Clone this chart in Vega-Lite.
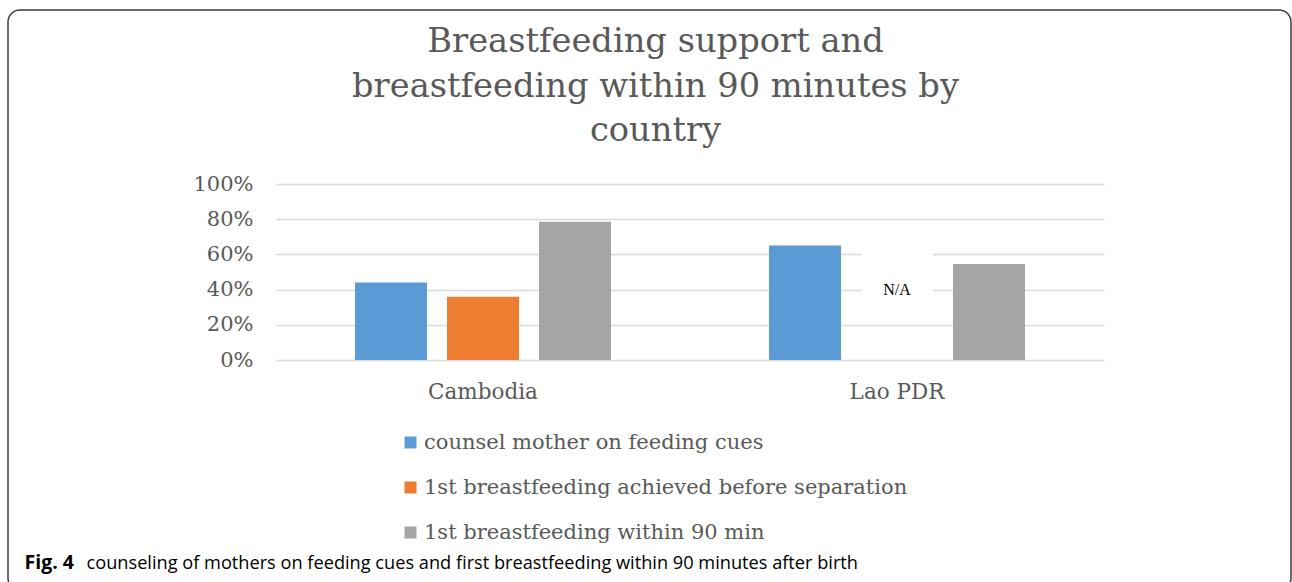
{
  "$schema": "https://vega.github.io/schema/vega-lite/v6.json",
  "width": 1283,
  "height": 580,
  "autosize": {"type": "none"},
  "padding": {"left": 8, "top": 10, "right": 1, "bottom": -8},
  "background": "white",
  "config": {
    "view": {"stroke": "#3c3c3c", "strokeWidth": 1.5, "cornerRadius": 12}
  },
  "title": {
    "text": ["Breastfeeding support and", "breastfeeding within 90 minutes by", "country"],
    "font": "DejaVu Serif",
    "fontSize": 33.7,
    "fontWeight": "normal",
    "color": "#595959",
    "anchor": "middle",
    "frame": "group",
    "baseline": "alphabetic",
    "offset": 0,
    "dx": 6,
    "dy": 165,
    "lineHeight": 44.5
  },
  "datasets": {
    "bars": [
      {"country": "Cambodia", "series": "counsel mother on feeding cues", "value": 0.44},
      {"country": "Cambodia", "series": "1st breastfeeding achieved before separation", "value": 0.36},
      {"country": "Cambodia", "series": "1st breastfeeding within 90 min", "value": 0.785},
      {"country": "Lao PDR", "series": "counsel mother on feeding cues", "value": 0.65},
      {"country": "Lao PDR", "series": "1st breastfeeding within 90 min", "value": 0.545}
    ],
    "na": [
      {"country": "Lao PDR", "series": "1st breastfeeding achieved before separation", "lo": 0.24, "hi": 0.61, "pos": 0.40, "label": "N/A"}
    ]
  },
  "layer": [
    {
      "data": {"name": "bars"},
      "mark": {"type": "bar"},
      "encoding": {
        "x": {
          "field": "country",
          "type": "nominal",
          "sort": ["Cambodia", "Lao PDR"],
          "scale": {"range": [268, 1096], "paddingInner": 0, "paddingOuter": 0},
          "axis": {
            "orient": "bottom",
            "offset": -230,
            "domain": false,
            "ticks": false,
            "tickSize": 0,
            "grid": false,
            "labelAngle": 0,
            "labelBaseline": "alphabetic",
            "labelPadding": 38,
            "labelFont": "DejaVu Serif",
            "labelFontSize": 21.5,
            "labelColor": "#595959",
            "title": "counseling of mothers on feeding cues and first breastfeeding within 90 minutes after birth",
            "titleFont": "Open Sans",
            "titleFontSize": 18.2,
            "titleFontWeight": "normal",
            "titleColor": "#000000",
            "titleAngle": 0,
            "titleAlign": "left",
            "titleBaseline": "alphabetic",
            "titleX": 78,
            "titleY": 208
          }
        },
        "xOffset": {
          "field": "series",
          "type": "nominal",
          "scale": {
            "domain": ["counsel mother on feeding cues", "1st breastfeeding achieved before separation", "1st breastfeeding within 90 min"],
            "paddingInner": 0.2174,
            "paddingOuter": 0.8587
          }
        },
        "y": {
          "field": "value",
          "type": "quantitative",
          "scale": {"domain": [0, 1], "range": [350, 174], "nice": false, "zero": true},
          "axis": {
            "orient": "left",
            "offset": -245,
            "values": [0, 0.2, 0.4, 0.6, 0.8, 1],
            "format": ".0%",
            "domain": false,
            "ticks": false,
            "tickSize": 0,
            "labelPadding": 0,
            "labelFont": "DejaVu Serif",
            "labelFontSize": 21,
            "labelColor": "#595959",
            "grid": true,
            "gridColor": "#D9D9D9",
            "gridWidth": 1.5,
            "title": "Fig. 4",
            "titleFont": "Open Sans",
            "titleFontSize": 19.5,
            "titleFontWeight": "bold",
            "titleColor": "#000000",
            "titleAngle": 0,
            "titleAlign": "left",
            "titleBaseline": "alphabetic",
            "titleX": -229,
            "titleY": 558
          }
        },
        "color": {
          "field": "series",
          "type": "nominal",
          "scale": {
            "domain": ["counsel mother on feeding cues", "1st breastfeeding achieved before separation", "1st breastfeeding within 90 min"],
            "range": ["#5B9BD5", "#ED7D31", "#A5A5A5"]
          },
          "legend": {
            "orient": "none",
            "legendX": 392,
            "legendY": 422,
            "direction": "vertical",
            "title": null,
            "padding": 0,
            "symbolType": "square",
            "symbolSize": 144,
            "symbolStrokeWidth": 0,
            "labelFont": "DejaVu Serif",
            "labelFontSize": 21,
            "labelColor": "#595959",
            "labelOffset": 3,
            "labelLimit": 800,
            "rowPadding": 23
          }
        }
      }
    },
    {
      "data": {"name": "na"},
      "mark": {"type": "bar", "color": "white", "fill": "white", "stroke": null},
      "encoding": {
        "x": {"field": "country", "type": "nominal"},
        "xOffset": {"field": "series", "type": "nominal"},
        "y": {"field": "hi", "type": "quantitative"},
        "y2": {"field": "lo"}
      }
    },
    {
      "data": {"name": "na"},
      "mark": {"type": "text", "font": "Liberation Serif", "fontSize": 16, "color": "#000000", "baseline": "middle", "align": "center"},
      "encoding": {
        "x": {"field": "country", "type": "nominal"},
        "xOffset": {"field": "series", "type": "nominal"},
        "y": {"field": "pos", "type": "quantitative"},
        "text": {"field": "label"}
      }
    }
  ]
}
